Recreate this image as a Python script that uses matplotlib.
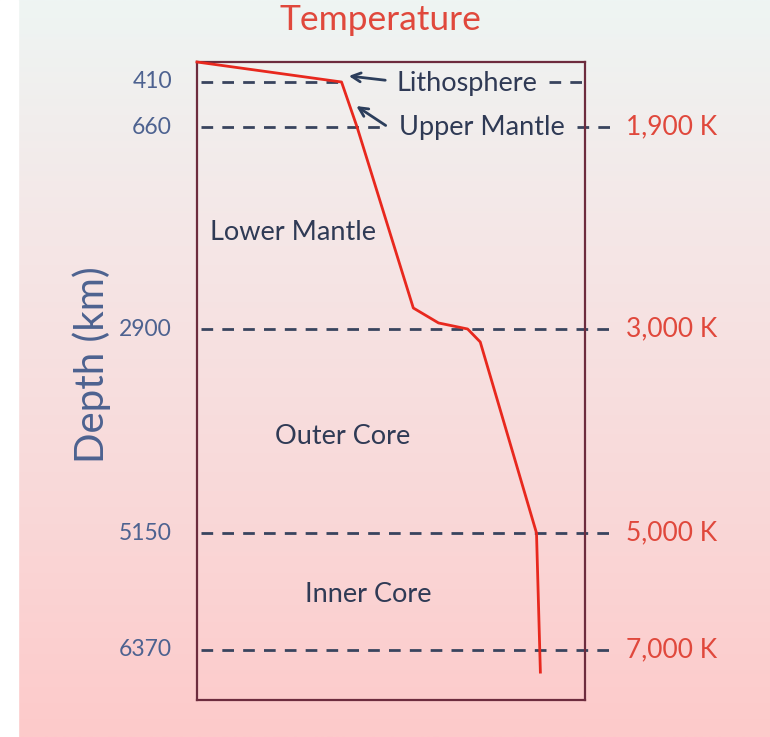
import numpy as np
import matplotlib
matplotlib.use("Agg")
import matplotlib.pyplot as plt
from matplotlib.colors import LinearSegmentedColormap

plt.rcParams['font.family'] = ['Lato', 'DejaVu Sans']

# layer boundaries (km) and the temperatures written on the right
boundary_depths = [410, 660, 2900, 5150, 6370]
boundary_temps = [None, '1,900 K', '3,000 K', '5,000 K', '7,000 K']
layer_names = ['Lower Mantle', 'Outer Core', 'Inner Core']
layer_depths = [1830, 4090, 5790]
layer_temps = [1290, 1805, 2063]
# sketched temperature profile
profile_depth = [0, 410, 660, 2667, 2833, 2900, 3043, 5150, 6600]
profile_temp = [300, 1790, 1950, 2530, 2790, 3090, 3220, 3800, 3840]

# the depth axis of the sketch is not linear: map depth -> drawing position
knot_depth = [0, 410, 660, 2900, 5150, 6370, 6890]
knot_pos = [62, 82, 127, 329, 533, 650, 700]


def fwd(d):
    return np.interp(d, knot_depth, knot_pos)


def inv(p):
    return np.interp(p, knot_pos, knot_depth)


blue = '#4d6290'
navy = '#2f3a55'
red = '#e0483c'
dash_col = '#39445e'

fig = plt.figure(figsize=(7.7, 7.37), dpi=100)

# background gradient
bg = fig.add_axes([0, 0, 1, 1], zorder=-1)
cmap = LinearSegmentedColormap.from_list('bg', ['#eef5f3', '#f5e6e6', '#f9d9d9', '#fdcaca'])
bg.imshow(np.linspace(0, 1, 256).reshape(-1, 1), aspect='auto', cmap=cmap,
          extent=[0, 1, 0, 1], origin='upper')
bg.axvspan(0, 18 / 770, color='white')
bg.set_xlim(0, 1)
bg.set_ylim(0, 1)
bg.axis('off')

W, H = 770, 737
L, R, T, B = 197, 585, 62, 700
ax = fig.add_axes([L / W, 1 - B / H, (R - L) / W, (B - T) / H])
ax.patch.set_alpha(0)
ax.set_yscale('function', functions=(fwd, inv))
ax.set_ylim(6890, 0)
ax.set_xlim(300, 4300)
ax.set_xticks([])
ax.set_yticks([])
for s in ax.spines.values():
    s.set_color('#6d2c3e')
    s.set_linewidth(1.6)


def fx(px):
    return (px - L) / (R - L)


tr = ax.get_yaxis_transform()

# dashed boundary lines (broken where the labels sit)
segments = {
    410: [(fx(201), fx(340)), (fx(549), fx(585))],
    660: [(fx(201), fx(386)), (fx(577), fx(612))],
}
for d, t in zip(boundary_depths, boundary_temps):
    for x0, x1 in segments.get(d, [(fx(201), fx(612))]):
        ax.plot([x0, x1], [d, d], transform=tr, color=dash_col, lw=2.0,
                dashes=(4.2, 3.3), clip_on=False, zorder=2)
    ax.text(fx(172), d, str(d), transform=tr, ha='right', va='center',
            color=blue, fontsize=16.5)
    if t:
        ax.text(fx(626), d, t, transform=tr, ha='left', va='center',
                color=red, fontsize=19)

# temperature profile
ax.plot(profile_temp, profile_depth, color='#e8281e', lw=2.0, clip_on=False, zorder=3)

# layer names
for name, d, t in zip(layer_names, layer_depths, layer_temps):
    ax.text(t, d, name, ha='center', va='center', color=navy, fontsize=19.5)

ax.text(fx(397), 420, 'Lithosphere', transform=tr, ha='left', va='center',
        color=navy, fontsize=19.5)
ax.text(fx(399), 670, 'Upper Mantle', transform=tr, ha='left', va='center',
        color=navy, fontsize=19.5)
arrow = dict(arrowstyle='->', color='#2c3e5c', lw=2.0, mutation_scale=16)
ax.annotate('', xy=(fx(346), 280), xytext=(fx(388), 380),
            xycoords=tr, textcoords=tr, arrowprops=arrow)
ax.annotate('', xy=(fx(354), 535), xytext=(fx(388), 660),
            xycoords=tr, textcoords=tr, arrowprops=arrow)

fig.text(380 / W, 1 - 20 / H, 'Temperature', ha='center', va='center',
         color=red, fontsize=25.5)
fig.text(92 / W, 1 - 365 / H, 'Depth (km)', ha='center', va='center',
         rotation=90, color=blue, fontsize=29)

fig.savefig('out.png', dpi=100)
